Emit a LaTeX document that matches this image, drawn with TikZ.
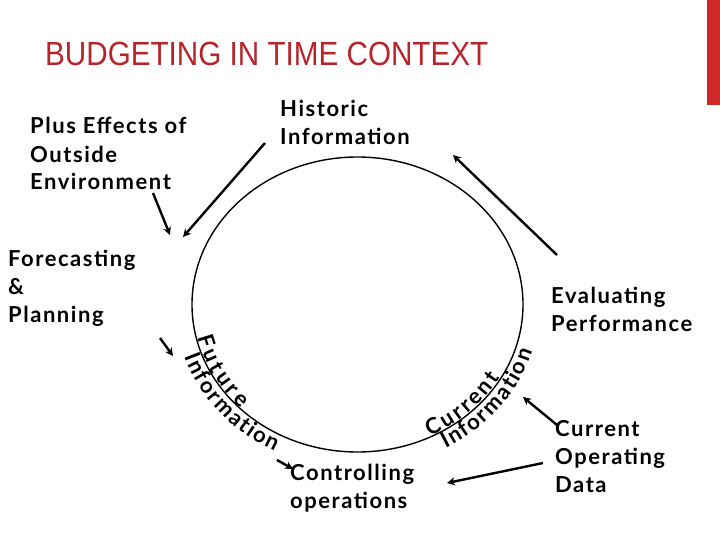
\documentclass[tikz,border=0pt]{standalone}
\usepackage{fontspec}
\setmainfont{Lato}[LetterSpace=7]
\newfontfamily\titlefont[FakeStretch=0.885]{Liberation Sans}
\newfontfamily\arcfont{Lato Bold}
\usepackage{tikz}
\usetikzlibrary{positioning}
\usetikzlibrary{arrows.meta}
\usetikzlibrary{decorations.text}
\definecolor{titlered}{RGB}{183,36,42}
\definecolor{barred}{RGB}{208,40,40}
\newcommand{\lblfont}{\fontsize{22}{28}\selectfont\bfseries}
\newcommand{\arcstyle}{\arcfont\fontsize{22}{28}\selectfont}

\begin{document}
\begin{tikzpicture}[x=1pt,y=-1pt,
  lbl/.style={anchor=base west,align=left,inner sep=0pt,font=\lblfont},
  arr/.style={-{Stealth[length=8pt,width=8pt]},line width=2.4pt},
  arctext/.style={font=\arcstyle,decorate,decoration={text along path,
    text align=fit to path,text={|\arcstyle|#1}}}]
  \useasboundingbox (0,0) rectangle (720,540);
  \fill[barred] (707,0) rectangle (720,105);
  \node[anchor=base west,inner sep=0pt,text=titlered,
    font=\titlefont\fontsize{33.5}{36}\selectfont] (title) at (45,66)
    {BUDGETING IN TIME CONTEXT};

  % the cycle
  \coordinate (ctr) at (357.5,304.5);
  \draw[line width=1.4pt] (ctr) ellipse [x radius=165.5,y radius=147.5];

  % labels round the cycle (anchored on their last line)
  \node[lbl] (outside) at (30,190) {Plus Effects of\\Outside\\Environment};
  \node[lbl] (historic) at (280,145) {Historic\\Information};
  \node[lbl] (forecast) at (8,322) {Forecasting\\\&\\Planning};
  \node[lbl] (evaluate) at (551,331) {Evaluating\\Performance};
  \node[lbl] (control) at (290,508) {Controlling\\operations};
  \node[lbl] (opdata) at (555,492) {Current\\Operating\\Data};

  % text along the arc
  \path[arctext={Future},decoration={raise=1pt}]
    (ctr) ++(167:165.5 and 147.5) arc [start angle=167,end angle=135,x radius=165.5,y radius=147.5];
  \path[arctext={Information},decoration={raise=-17pt}]
    (ctr) ++(162:165.5 and 147.5) arc [start angle=162,end angle=117,x radius=165.5,y radius=147.5];
  \path[arctext={Current},decoration={raise=1pt}]
    (ctr) ++(64:165.5 and 147.5) arc [start angle=64,end angle=30,x radius=165.5,y radius=147.5];
  \path[arctext={Information},decoration={raise=-17pt}]
    (ctr) ++(61:165.5 and 147.5) arc [start angle=61,end angle=16,x radius=165.5,y radius=147.5];

  % arrows
  \coordinate (envtail) at (153,193);
  \coordinate (envhead) at (170,235);
  \coordinate (histtail) at (265,143);
  \coordinate (histhead) at (183,237);
  \coordinate (evaltail) at (557,255);
  \coordinate (evalhead) at (453,155);
  \coordinate (futtail) at (160,338);
  \coordinate (futhead) at (173,356);
  \coordinate (ctrltail) at (277,460);
  \coordinate (ctrlhead) at (293,469);
  \coordinate (curtail) at (557,425);
  \coordinate (curhead) at (523,397);
  \coordinate (optail) at (543,463);
  \coordinate (ophead) at (447,483);
  \draw[arr] (envtail) -- (envhead);
  \draw[arr] (histtail) -- (histhead);
  \draw[arr] (evaltail) -- (evalhead);
  \draw[arr] (futtail) -- (futhead);
  \draw[arr] (ctrltail) -- (ctrlhead);
  \draw[arr] (curtail) -- (curhead);
  \draw[arr] (optail) -- (ophead);
\end{tikzpicture}
\end{document}
